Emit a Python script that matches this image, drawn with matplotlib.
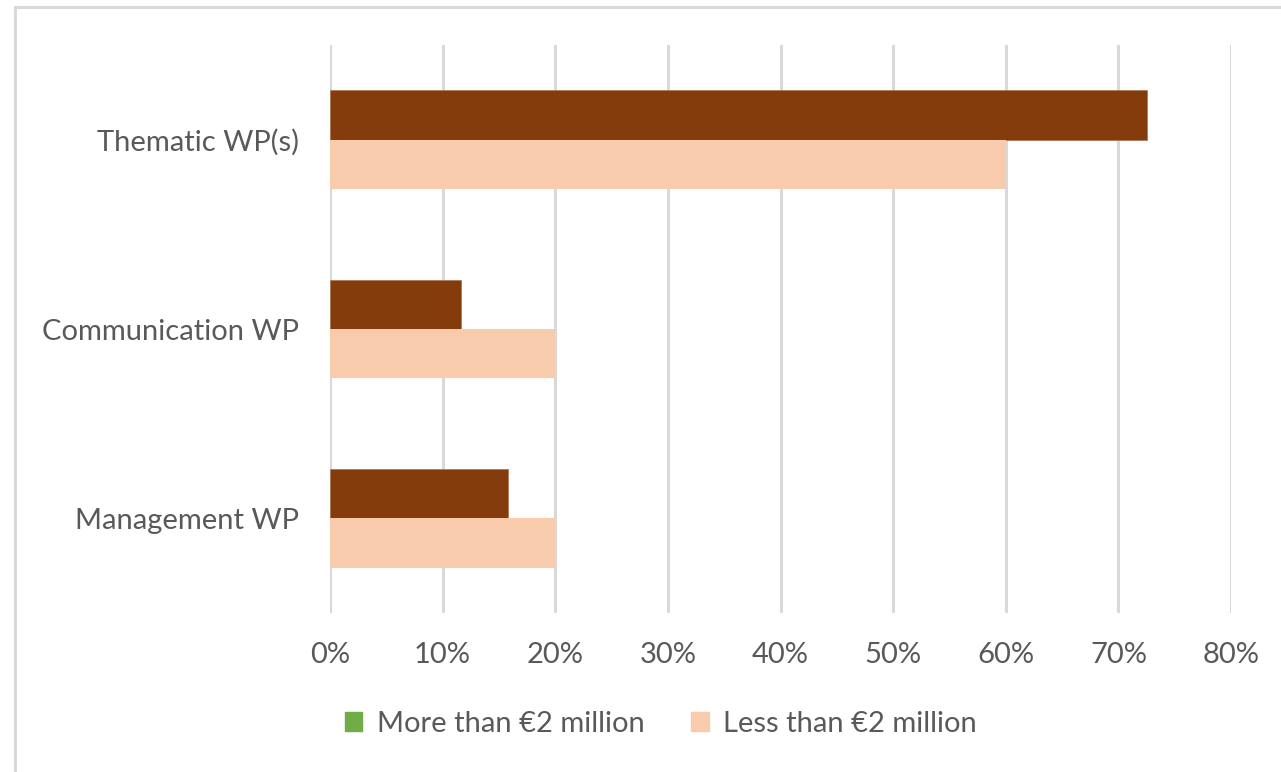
import matplotlib
matplotlib.use("Agg")
import matplotlib.pyplot as plt
from matplotlib.patches import Patch
from matplotlib.lines import Line2D
import numpy as np

categories = ["Thematic WP(s)", "Communication WP", "Management WP"]
more_than_2m = [72.5, 11.6, 15.8]
less_than_2m = [60.0, 20.0, 20.0]
x_ticks = [0, 10, 20, 30, 40, 50, 60, 70, 80]
series_labels = ["More than €2 million", "Less than €2 million"]

plt.rcParams['font.family'] = ['Lato', 'DejaVu Sans']
W, H = 1281, 772
fig = plt.figure(figsize=(W / 100, H / 100), dpi=100)
ax = fig.add_axes([330 / W, 1 - 613 / H, (1231 - 330) / W, (613 - 45) / H])

text_col = "#595959"
grid_col = "#D9D9D9"
brown = "#843C0C"
peach = "#F8CBAD"
green = "#70AD47"
fs = 21

y = np.arange(len(categories))
h = 0.261
ax.barh(y - h / 2, more_than_2m, height=h, color=brown, edgecolor="#B07A55", linewidth=0.6, zorder=3)
ax.barh(y + h / 2, less_than_2m, height=h, color=peach, zorder=3)

ax.set_xlim(0, 80)
ax.set_ylim(len(categories) - 0.5, -0.5)
ax.set_xticks(x_ticks)
ax.set_xticklabels([f"{t}%" for t in x_ticks])
ax.set_yticks(y)
ax.set_yticklabels(categories)
ax.tick_params(length=0, labelsize=fs, colors=text_col)
ax.tick_params(axis='x', pad=21)
ax.tick_params(axis='y', pad=22)
ax.grid(axis='x', color=grid_col, linewidth=2.2, zorder=0)
ax.grid(axis='y', visible=False)
for s in ax.spines.values():
    s.set_visible(False)

handles = [Patch(facecolor=green, edgecolor=green, label=series_labels[0]),
           Patch(facecolor=peach, edgecolor=peach, label=series_labels[1])]
fig.legend(handles=handles, loc="center", bbox_to_anchor=(661 / W, 1 - 724 / H),
           ncol=2, frameon=False, fontsize=fs, labelcolor=text_col,
           handlelength=0.6, handleheight=0.6, handletextpad=0.5, columnspacing=1.6)

# frame lines of the chart border
fig.add_artist(Line2D([15 / W, 1], [1 - 7 / H, 1 - 7 / H], transform=fig.transFigure,
                      color=grid_col, linewidth=2.2))
fig.add_artist(Line2D([15 / W, 15 / W], [0, 1 - 7 / H], transform=fig.transFigure,
                      color=grid_col, linewidth=2.2))

fig.savefig("out.png", dpi=100)
